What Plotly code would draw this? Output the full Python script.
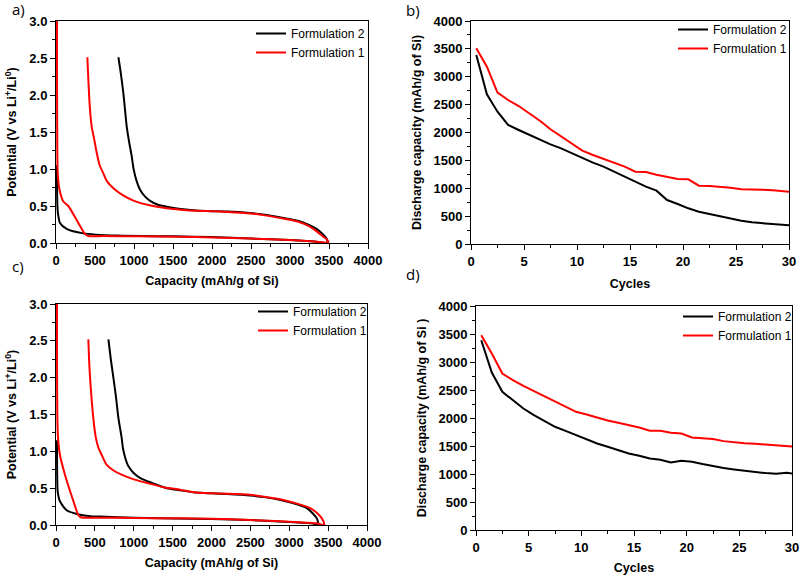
import plotly.graph_objects as go

# ---------------- DATA ----------------
# Panel a: voltage profiles (capacity mAh/g of Si, potential V)
a_f2_cap = [12, 14, 18, 25, 51, 137, 350, 778, 1500, 2000, 2500, 3000, 3340, 3480,
            3470, 3420, 3340, 3250, 3100, 2900, 2700, 2487, 2200, 2000, 1800, 1600, 1420,
            1300, 1206, 1140, 1078, 1030, 995, 971, 940, 907, 885, 864, 830, 800]
a_f2_v = [1.05, 0.7, 0.5, 0.40, 0.27, 0.19, 0.13, 0.10, 0.09, 0.08, 0.06, 0.04, 0.018, 0.0,
          0.06, 0.12, 0.19, 0.24, 0.30, 0.34, 0.38, 0.405, 0.425, 0.43, 0.44, 0.46, 0.49,
          0.52, 0.57, 0.63, 0.72, 0.85, 1.0, 1.17, 1.35, 1.57, 1.8, 2.02, 2.3, 2.51]
a_f1_cap = [12, 14, 16, 20, 28, 45, 94, 158, 260, 372, 415, 600, 1000, 1600, 2000, 2500,
            3000, 3342, 3440, 3491, 3485, 3460, 3427, 3350, 3256, 3100, 2914, 2700, 2487,
            2200, 2000, 1800, 1600, 1420, 1200, 1000, 850, 736, 650, 607, 560, 522, 490,
            458, 440, 428, 415, 402]
a_f1_v = [3.0, 2.0, 1.4, 1.0, 0.85, 0.72, 0.56, 0.50, 0.32, 0.12, 0.095, 0.093, 0.09, 0.085,
          0.075, 0.06, 0.04, 0.018, 0.008, 0.0, 0.03, 0.06, 0.085, 0.15, 0.22, 0.29, 0.33,
          0.37, 0.40, 0.42, 0.43, 0.435, 0.45, 0.47, 0.51, 0.57, 0.65, 0.74, 0.84, 0.94,
          1.05, 1.22, 1.40, 1.57, 1.75, 1.93, 2.2, 2.51]

# Panel c: voltage profiles
c_f2_cap = [12, 14, 17, 22, 51, 137, 266, 438, 566, 1000, 2000, 2497, 3000, 3300, 3376,
            3370, 3355, 3300, 3226, 3100, 2926, 2700, 2497, 2200, 2000, 1800, 1596, 1425,
            1210, 1080, 995, 930, 888, 860, 845, 803, 770, 738, 705, 674]
c_f2_v = [1.15, 0.8, 0.55, 0.45, 0.32, 0.20, 0.15, 0.12, 0.115, 0.10, 0.08, 0.068, 0.04, 0.02, 0.0,
          0.04, 0.09, 0.16, 0.23, 0.28, 0.33, 0.375, 0.40, 0.42, 0.43, 0.44, 0.47, 0.50,
          0.58, 0.64, 0.71, 0.80, 0.92, 1.05, 1.18, 1.45, 1.75, 2.0, 2.25, 2.52]
c_f1_cap = [12, 14, 17, 25, 51, 116, 200, 287, 318, 600, 1000, 1600, 2000, 2497, 3000, 3355,
            3449, 3440, 3420, 3350, 3269, 3100, 2926, 2700, 2497, 2200, 2000, 1800, 1596,
            1400, 1210, 1000, 850, 740, 650, 588, 545, 510, 480, 455, 438, 425, 416]
c_f1_v = [3.0, 2.0, 1.5, 1.2, 0.95, 0.68, 0.40, 0.136, 0.105, 0.10, 0.095, 0.09, 0.085, 0.068,
          0.045, 0.023, 0.0, 0.05, 0.09, 0.17, 0.23, 0.29, 0.34, 0.38, 0.41, 0.425, 0.43,
          0.44, 0.48, 0.51, 0.56, 0.62, 0.68, 0.74, 0.82, 0.95, 1.05, 1.2, 1.45, 1.75, 2.0,
          2.25, 2.52]

# Panels b and d: discharge capacity vs cycle
cycles = [0.5, 1.5, 2.5, 3.5, 4.5, 5.5, 6.5, 7.5, 8.5, 9.5, 10.5, 11.5, 12.5, 13.5, 14.5,
          15.5, 16.5, 17.5, 18.5, 19.5, 20.5, 21.5, 22.5, 23.5, 24.5, 25.5, 26.5, 27.5,
          28.5, 29.5, 30.0]
b_f2 = [3390, 2685, 2374, 2135, 2045, 1955, 1865, 1788, 1716, 1626, 1537, 1459, 1387, 1297,
        1208, 1118, 1028, 957, 789, 717, 640, 580, 538, 490, 448, 418, 389, 377, 359, 341, 335]
b_f1 = [3510, 3181, 2715, 2583, 2475, 2344, 2212, 2057, 1925, 1794, 1674, 1596, 1525, 1459,
        1387, 1297, 1291, 1244, 1208, 1166, 1160, 1046, 1040, 1028, 1010, 981, 981, 975,
        963, 945, 939]
d_f2 = [3388, 2811, 2467, 2318, 2170, 2051, 1944, 1843, 1771, 1694, 1623, 1545, 1486, 1421,
        1367, 1326, 1278, 1254, 1207, 1236, 1219, 1177, 1135, 1106, 1082, 1058, 1034, 1016,
        1004, 1022, 1010]
d_f1 = [3477, 3150, 2794, 2675, 2574, 2479, 2389, 2288, 2199, 2110, 2063, 2003, 1956, 1914,
        1872, 1831, 1771, 1771, 1736, 1724, 1652, 1641, 1623, 1587, 1563, 1551, 1539, 1522,
        1510, 1498, 1492]

names = ["Formulation 2", "Formulation 1"]
colors = ["#000000", "#ff0000"]

# ---------------- FIGURE ----------------
W, H = 800, 575
FONT = "Liberation Sans"

def px_x(p):
    return p / W

def px_y(p):
    return 1 - p / H

fig = go.Figure()

panels = [
    ("x", "y", "legend", [a_f2_cap, a_f1_cap], [a_f2_v, a_f1_v], "spline"),
    ("x2", "y2", "legend2", [cycles, cycles], [b_f2, b_f1], "linear"),
    ("x3", "y3", "legend3", [c_f2_cap, c_f1_cap], [c_f2_v, c_f1_v], "spline"),
    ("x4", "y4", "legend4", [cycles, cycles], [d_f2, d_f1], "linear"),
]

for xa, ya, lg, xs, ys, shape in panels:
    for i in range(2):
        line = dict(color=colors[i], width=2, shape=shape)
        if shape == "spline":
            line["smoothing"] = 0.6
        fig.add_trace(go.Scatter(
            x=xs[i], y=ys[i], mode="lines", name=names[i], line=line,
            xaxis=xa, yaxis=ya, legend=lg, showlegend=True,
        ))

tickfont = dict(family=FONT, size=13, color="black", weight="bold")
titlefont = dict(family=FONT, size=12.5, color="black", weight="bold")

def xaxis(domain, anchor, rng, dtick, minor_dtick, title, standoff):
    return dict(domain=domain, anchor=anchor, range=rng, dtick=dtick, tick0=0,
                showgrid=False, zeroline=False, showline=True, linecolor="black",
                linewidth=1, mirror=True, ticks="outside", ticklen=5, tickwidth=1,
                tickcolor="black", tickfont=tickfont, automargin=False,
                ticklabeloverflow="allow",
                minor=dict(ticks="outside", ticklen=3, dtick=minor_dtick, tickcolor="black",
                           showgrid=False),
                title=dict(text=title, font=titlefont, standoff=standoff))

def yaxis(domain, anchor, rng, dtick, minor_dtick, title, fmt, standoff):
    return dict(domain=domain, anchor=anchor, range=rng, dtick=dtick, tick0=0,
                showgrid=False, zeroline=False, showline=True, linecolor="black",
                linewidth=1, mirror=True, ticks="outside", ticklen=5, tickwidth=1,
                tickcolor="black", tickfont=tickfont, tickformat=fmt, automargin=False,
                ticklabeloverflow="allow",
                minor=dict(ticks="outside", ticklen=3, dtick=minor_dtick, tickcolor="black",
                           showgrid=False),
                title=dict(text=title, font=titlefont, standoff=standoff))

cap_title = "Capacity (mAh/g of Si)"
pot_title = "Potential (V vs Li<sup>+</sup>/Li<sup>0</sup>)"

fig.update_layout(
    width=W, height=H,
    margin=dict(l=0, r=0, t=0, b=0),
    paper_bgcolor="white", plot_bgcolor="white",
    font=dict(family=FONT, color="black"),
    xaxis=xaxis([px_x(56), px_x(368)], "y", [0, 4000], 500, 250, cap_title, 9),
    yaxis=yaxis([px_y(243), px_y(21)], "x", [0, 3], 0.5, 0.25, pot_title, ".1f", 9),
    xaxis2=xaxis([px_x(471), px_x(789)], "y2", [0, 30], 5, 2.5, "Cycles", 11),
    yaxis2=yaxis([px_y(244), px_y(21)], "x2", [0, 4000], 500, 250,
                 "Discharge capacity (mAh/g of Si)", "d", 9),
    xaxis3=xaxis([px_x(56), px_x(367)], "y3", [0, 4000], 500, 250, cap_title, 9),
    yaxis3=yaxis([px_y(525), px_y(304)], "x3", [0, 3], 0.5, 0.25, pot_title, ".1f", 9),
    xaxis4=xaxis([px_x(476), px_x(792)], "y4", [0, 30], 5, 2.5, "Cycles", 11),
    yaxis4=yaxis([px_y(530), px_y(306)], "x4", [0, 4000], 500, 250,
                 "Discharge capacity (mAh/g of Si )", "d", 9),
)

legend_style = dict(bgcolor="rgba(0,0,0,0)", borderwidth=0,
                    font=dict(family=FONT, size=12, color="black"),
                    xanchor="left", yanchor="top", tracegroupgap=0)
fig.update_layout(
    legend=dict(x=px_x(251), y=px_y(19), **legend_style),
    legend2=dict(x=px_x(673), y=px_y(15), **legend_style),
    legend3=dict(x=px_x(253), y=px_y(297), **legend_style),
    legend4=dict(x=px_x(678), y=px_y(302), **legend_style),
)

for label, cx, cy in [("a)", 18, 9), ("b)", 413, 10), ("c)", 18, 266), ("d)", 413, 274)]:
    fig.add_annotation(text=label, x=px_x(cx), y=px_y(cy), xref="paper", yref="paper",
                       showarrow=False, xanchor="center", yanchor="middle",
                       font=dict(family="Open Sans", size=15, color="black"))

fig.write_html("out.html",
               config={"displayModeBar": False},
               post_script="document.body.style.margin='0';document.body.style.padding='0';")
